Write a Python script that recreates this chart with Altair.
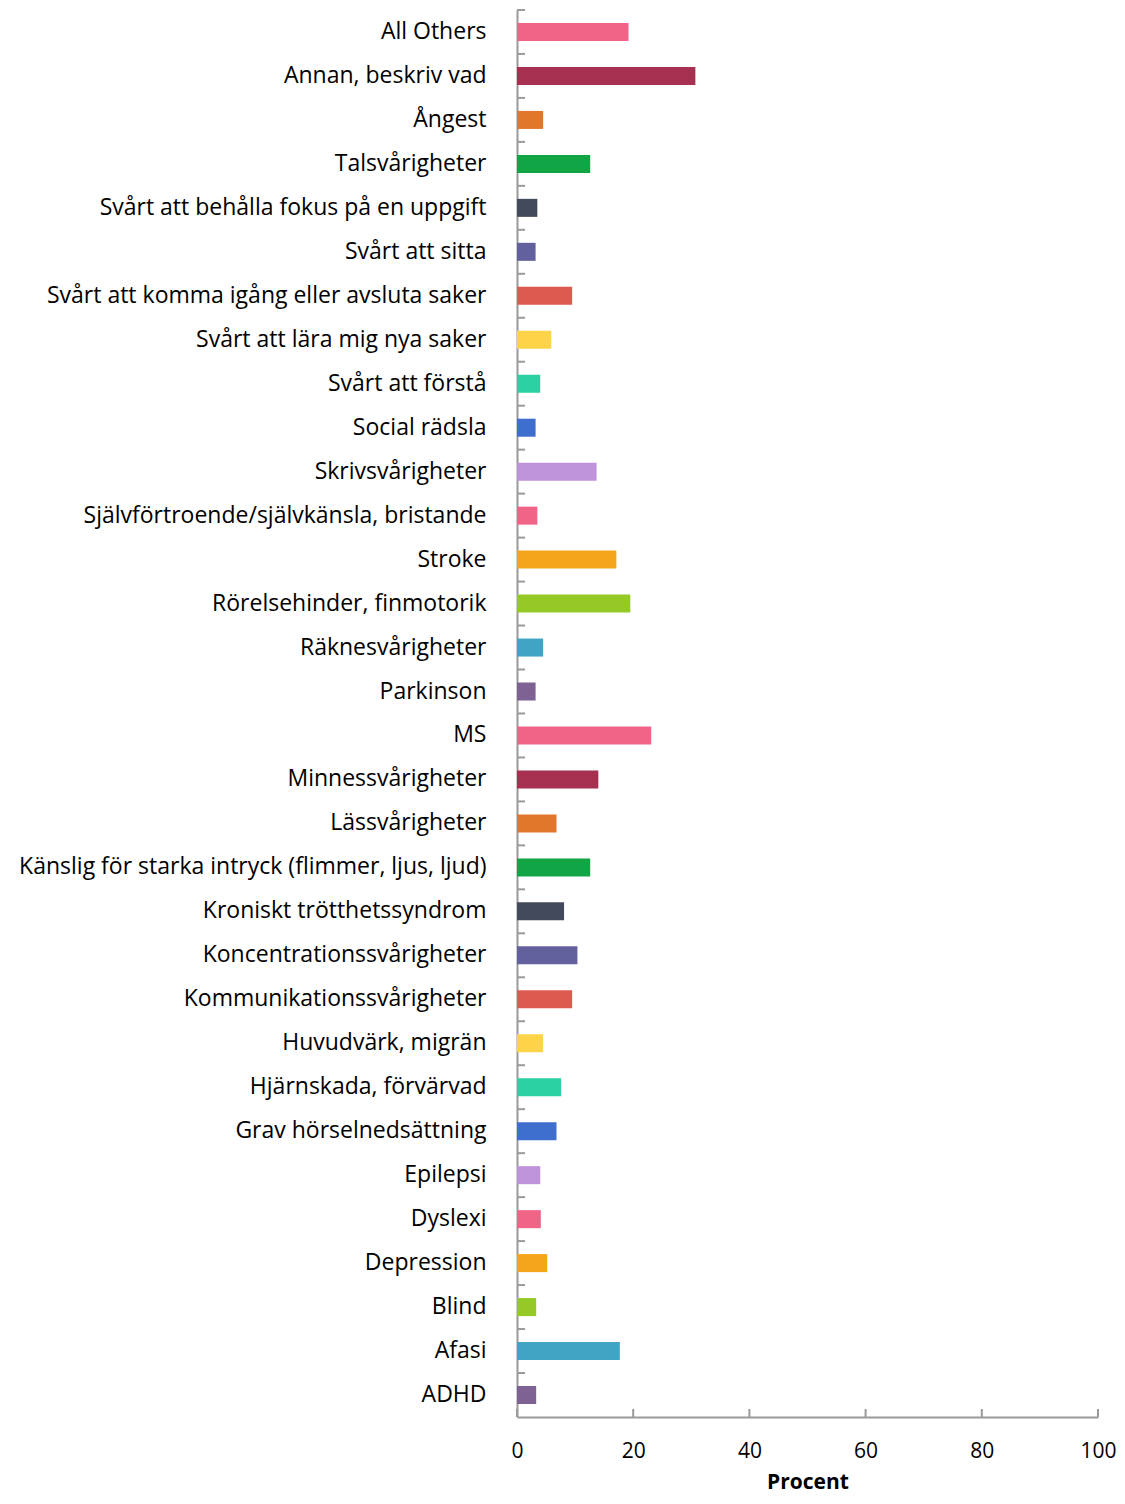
import altair as alt
import pandas as pd

categories = [
    "All Others", "Annan, beskriv vad", "Ångest", "Talsvårigheter",
    "Svårt att behålla fokus på en uppgift", "Svårt att sitta",
    "Svårt att komma igång eller avsluta saker", "Svårt att lära mig nya saker",
    "Svårt att förstå", "Social rädsla", "Skrivsvårigheter",
    "Självförtroende/självkänsla, bristande", "Stroke", "Rörelsehinder, finmotorik",
    "Räknesvårigheter", "Parkinson", "MS", "Minnessvårigheter", "Lässvårigheter",
    "Känslig för starka intryck (flimmer, ljus, ljud)", "Kroniskt trötthetssyndrom",
    "Koncentrationssvårigheter", "Kommunikationssvårigheter", "Huvudvärk, migrän",
    "Hjärnskada, förvärvad", "Grav hörselnedsättning", "Epilepsi", "Dyslexi",
    "Depression", "Blind", "Afasi", "ADHD",
]
values = [
    19.2, 30.7, 4.5, 12.6,
    3.5, 3.2,
    9.5, 5.9,
    4.0, 3.2, 13.7,
    3.5, 17.1, 19.5,
    4.5, 3.2, 23.1, 14.0, 6.8,
    12.6, 8.1,
    10.4, 9.5, 4.5,
    7.6, 6.8, 4.0, 4.1,
    5.2, 3.3, 17.7, 3.3,
]
colors = [
    "#f06488", "#a5304f", "#e0772a", "#12a546",
    "#434a5c", "#63619d",
    "#dc5a50", "#fdd448",
    "#2bd1a2", "#3e6fce", "#bf93da",
    "#f06488", "#f4a51a", "#94c926",
    "#41a4c4", "#7e6294", "#f06488", "#a5304f", "#e0772a",
    "#12a546", "#434a5c",
    "#63619d", "#dc5a50", "#fdd448",
    "#2bd1a2", "#3e6fce", "#bf93da", "#f06488",
    "#f4a51a", "#94c926", "#41a4c4", "#7e6294",
]
x_ticks = [0, 20, 40, 60, 80, 100]

df = pd.DataFrame({"cat": categories, "val": values})
tick_df = pd.DataFrame({"v": x_ticks})

W = 581
H = 1407
FONT = "Open Sans"

yscale = alt.Scale(paddingInner=0.59, paddingOuter=0.295)
xscale = alt.Scale(domain=[0, 100], nice=False)

bars = alt.Chart(df).mark_bar().encode(
    y=alt.Y("cat:N", sort=categories, scale=yscale, title=None,
            axis=alt.Axis(ticks=False, labelPadding=31, labelFontSize=23,
                          labelFont=FONT, labelColor="#000000", domainColor="#9a9a9a",
                          domainWidth=2, labelLimit=600, grid=False)),
    x=alt.X("val:Q", scale=xscale, title="Procent",
            axis=alt.Axis(values=x_ticks, ticks=False, labelPadding=23, labelFontSize=21,
                          labelFont=FONT, labelColor="#000000", domainColor="#9a9a9a",
                          domainWidth=2, grid=False, labelFlush=False,
                          titleFont=FONT, titleFontSize=21,
                          titleFontWeight="bold", titlePadding=10, titleColor="#000000")),
    color=alt.Color("cat:N", scale=alt.Scale(domain=categories, range=colors), legend=None),
)

ytick = alt.Chart(df).mark_rule(color="#9a9a9a", strokeWidth=2, yOffset=-13).encode(
    y=alt.Y("cat:N", sort=categories, bandPosition=0),
    x=alt.value(0),
    x2=alt.value(8),
)

xtick = alt.Chart(tick_df).mark_rule(color="#9a9a9a", strokeWidth=2).encode(
    x=alt.X("v:Q"),
    y=alt.value(H),
    y2=alt.value(H - 8),
)

chart = alt.layer(bars, ytick, xtick).properties(
    width=W, height=H,
    autosize=alt.AutoSizeParams(type="none"),
    padding={"left": 509, "top": 2, "right": 19, "bottom": 79},
).configure_view(stroke=None)

chart.save("out.html", embed_options={"renderer": "svg", "actions": False})
